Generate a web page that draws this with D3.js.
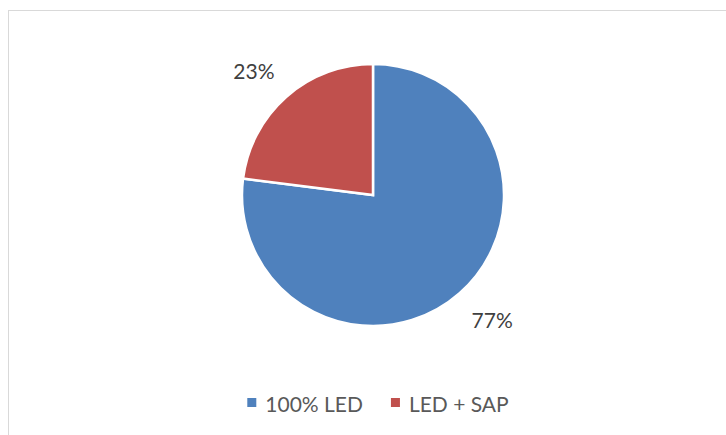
<!DOCTYPE html>
<html><head><meta charset="utf-8">
<script src="https://cdn.jsdelivr.net/npm/d3@7"></script>
<style>html,body{margin:0;padding:0;background:#fff;}svg{display:block;}</style>
</head><body>
<svg id="chart" width="726" height="435"></svg>
<script>
const categories = ["100% LED", "LED + SAP"];
const values = [77, 23];
const labels = ["77%", "23%"];
const colors = ["#4F81BD", "#C0504D"];

const W = 726, H = 435;
const svg = d3.select("#chart");
const font = "Lato, 'Open Sans', sans-serif";

// chart frame
svg.append("rect").attr("x", 8.5).attr("y", 10.5).attr("width", 800).attr("height", 500)
  .attr("fill", "#fff").attr("stroke", "#d9d9d9").attr("stroke-width", 1);

const cx = 373, cy = 195, R = 131;
const pie = d3.pie().sort(null).value(d => d)(values);
const arc = d3.arc().innerRadius(0).outerRadius(R);
const g = svg.append("g").attr("transform", `translate(${cx},${cy})`);

g.selectAll("path").data(pie).join("path")
  .attr("d", arc)
  .attr("fill", (d, i) => colors[i])
  .attr("stroke", "#fff").attr("stroke-width", 2.5).attr("stroke-linejoin", "miter");

// data labels (outside end, box corner near point on circle)
const LR = 149;
const lab = g.selectAll("text.lab").data(pie).join("text").attr("class", "lab")
  .attr("font-family", font).attr("font-size", 21).attr("fill", "#404040")
  .attr("text-anchor", "middle").attr("dominant-baseline", "central")
  .text((d, i) => labels[i]);
lab.each(function(d) {
  const a = (d.startAngle + d.endAngle) / 2;
  const dx = Math.sin(a), dy = -Math.cos(a);
  const bb = this.getBBox();
  const x = dx * LR + Math.sign(dx) * bb.width / 2;
  const y = dy * LR + Math.sign(dy) * bb.height / 2;
  d3.select(this).attr("x", x).attr("y", y);
});

// legend
const leg = svg.append("g");
const sq = 9, gapT = 9, gapItem = 28, legY = 403;
let xCur = 0;
const items = categories.map((c, i) => {
  const t = leg.append("text").attr("font-family", font).attr("font-size", 21)
    .attr("fill", "#595959").attr("dominant-baseline", "central").text(c);
  const w = t.node().getComputedTextLength();
  const it = { t, w, i, x: xCur };
  xCur += sq + gapT + w + gapItem;
  return it;
});
const total = xCur - gapItem;
const x0 = cx + 5 - total / 2;
items.forEach(it => {
  leg.append("rect").attr("x", x0 + it.x).attr("y", legY - sq / 2 - 0.5)
    .attr("width", sq).attr("height", sq).attr("fill", colors[it.i]);
  it.t.attr("x", x0 + it.x + sq + gapT).attr("y", legY);
});
</script>
</body></html>
